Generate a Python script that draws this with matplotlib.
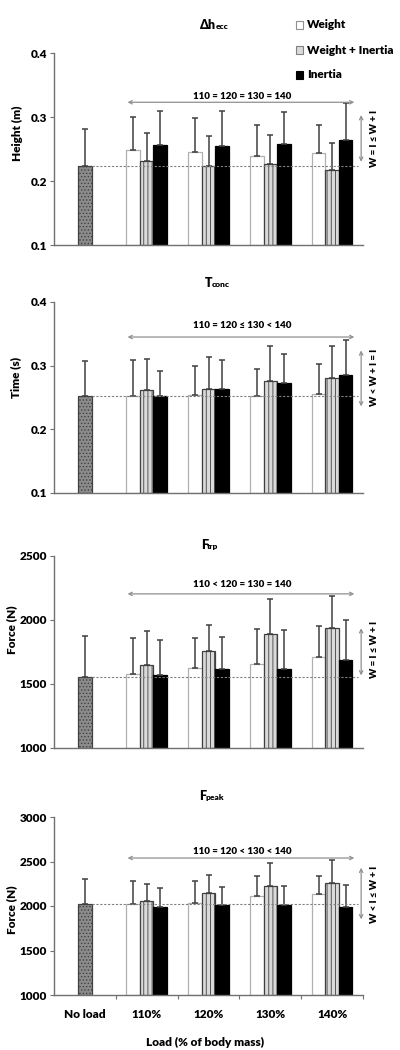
import matplotlib
matplotlib.use("Agg")
import matplotlib.pyplot as plt
import numpy as np

plt.rcParams['font.family'] = ['Lato', 'DejaVu Sans']
plt.rcParams['font.weight'] = 'heavy'
plt.rcParams['hatch.linewidth'] = 0.6
FW = 'heavy'

categories = ['No load', '110%', '120%', '130%', '140%']
series_names = ['Weight', 'Weight + Inertia', 'Inertia']

# Panel 1: delta h ecc (m)
dh_noload, dh_noload_sd = 0.223, 0.058
dh_w = [0.248, 0.245, 0.239, 0.243]
dh_w_sd = [0.052, 0.053, 0.048, 0.045]
dh_wi = [0.232, 0.224, 0.226, 0.217]
dh_wi_sd = [0.043, 0.047, 0.046, 0.042]
dh_i = [0.256, 0.254, 0.258, 0.264]
dh_i_sd = [0.054, 0.056, 0.050, 0.058]

# Panel 2: T conc (s)
tc_noload, tc_noload_sd = 0.253, 0.054
tc_w = [0.253, 0.254, 0.253, 0.255]
tc_w_sd = [0.056, 0.046, 0.042, 0.048]
tc_wi = [0.261, 0.264, 0.276, 0.280]
tc_wi_sd = [0.050, 0.050, 0.055, 0.051]
tc_i = [0.253, 0.263, 0.272, 0.286]
tc_i_sd = [0.039, 0.046, 0.046, 0.054]

# Panel 3: F trp (N)
ft_noload, ft_noload_sd = 1556, 320
ft_w = [1577, 1627, 1655, 1712]
ft_w_sd = [281, 231, 273, 245]
ft_wi = [1647, 1754, 1889, 1936]
ft_wi_sd = [266, 208, 273, 252]
ft_i = [1567, 1621, 1621, 1686]
ft_i_sd = [278, 250, 303, 312]

# Panel 4: F peak (N)
fp_noload, fp_noload_sd = 2020, 283
fp_w = [2028, 2032, 2111, 2134]
fp_w_sd = [256, 244, 225, 202]
fp_wi = [2055, 2141, 2224, 2258]
fp_wi_sd = [195, 210, 259, 254]
fp_i = [1994, 2010, 2010, 1988]
fp_i_sd = [211, 203, 214, 243]

panels = [
    dict(main='Δh', sub='ecc', ylabel='Height (m)', ylim=(0.1, 0.4), yticks=[0.1, 0.2, 0.3, 0.4], fmt='{:.1f}',
         nl=dh_noload, nlsd=dh_noload_sd, w=dh_w, wsd=dh_w_sd, wi=dh_wi, wisd=dh_wi_sd, i=dh_i, isd=dh_i_sd,
         load_text='110 = 120 = 130 = 140', arrow_y=0.323, text_y=0.332,
         mode_text='W = I ≤ W + I', v0=0.230, v1=0.303, vt=0.267,
         px=(53, 245), title_px=(208, 25), ylab_px=(17, 133)),
    dict(main='T', sub='conc', ylabel='Time (s)', ylim=(0.1, 0.4), yticks=[0.1, 0.2, 0.3, 0.4], fmt='{:.1f}',
         nl=tc_noload, nlsd=tc_noload_sd, w=tc_w, wsd=tc_w_sd, wi=tc_wi, wisd=tc_wi_sd, i=tc_i, isd=tc_i_sd,
         load_text='110 = 120 ≤ 130 < 140', arrow_y=0.345, text_y=0.363,
         mode_text='W < W + I = I', v0=0.236, v1=0.324, vt=0.281,
         px=(302, 493), title_px=(213, 283), ylab_px=(16, 377)),
    dict(main='F', sub='trp', ylabel='Force (N)', ylim=(1000, 2500), yticks=[1000, 1500, 2000, 2500], fmt='{:.0f}',
         nl=ft_noload, nlsd=ft_noload_sd, w=ft_w, wsd=ft_w_sd, wi=ft_wi, wisd=ft_wi_sd, i=ft_i, isd=ft_i_sd,
         load_text='110 < 120 = 130 = 140', arrow_y=2204, text_y=2279,
         mode_text='W = I ≤ W + I', v0=1567, v1=1936, vt=1767,
         px=(556, 748), title_px=(209, 545), ylab_px=(12, 630)),
    dict(main='F', sub='peak', ylabel='Force (N)', ylim=(1000, 3000), yticks=[1000, 1500, 2000, 2500, 3000], fmt='{:.0f}',
         nl=fp_noload, nlsd=fp_noload_sd, w=fp_w, wsd=fp_w_sd, wi=fp_wi, wisd=fp_wi_sd, i=fp_i, isd=fp_i_sd,
         load_text='110 = 120 < 130 < 140', arrow_y=2539, text_y=2614,
         mode_text='W < I ≤ W + I', v0=1850, v1=2430, vt=2126,
         px=(817, 995), title_px=(207, 796), ylab_px=(12, 910)),
]

W_PX, H_PX = 400, 1050
fig = plt.figure(figsize=(W_PX / 100, H_PX / 100), dpi=100)

AX_L, AX_R = 54, 363
bw = 0.22
edge = '#404040'
spine_c = '#707070'
arrow_c = '#909090'


def fx(p):
    return p / W_PX


def fy(p):
    return 1 - p / H_PX


for k, P in enumerate(panels):
    top, bot = P['px']
    ax = fig.add_axes([fx(AX_L), fy(bot), fx(AX_R - AX_L), (bot - top) / H_PX])
    ax.set_xlim(-0.5, 4.5)
    ax.set_ylim(*P['ylim'])
    base = P['ylim'][0]
    ekw = dict(ecolor=edge, elinewidth=1.1, capsize=2.2, capthick=1.1)

    # no-load bar
    ax.bar([0], [P['nl'] - base], bottom=base, width=bw, color='#8c8c8c', edgecolor=edge,
           linewidth=0.9, hatch='.....', zorder=2)
    ax.errorbar([0], [P['nl']], yerr=[[0], [P['nlsd']]], fmt='none', zorder=3, **ekw)

    x = np.arange(1, 5)
    w_vals = np.array(P['w'])
    wi_vals = np.array(P['wi'])
    i_vals = np.array(P['i'])
    ax.bar(x - bw, w_vals - base, bottom=base, width=bw, color='white', edgecolor='#b0b0b0',
           linewidth=0.9, zorder=2)
    ax.bar(x, wi_vals - base, bottom=base, width=bw, color='#dadada', edgecolor=edge, linewidth=0.9,
           hatch='||||', zorder=2)
    ax.bar(x + bw, i_vals - base, bottom=base, width=bw, color='black', edgecolor='black',
           linewidth=0.9, zorder=2)
    for xs, vals, sds in [(x - bw, w_vals, P['wsd']), (x, wi_vals, P['wisd']), (x + bw, i_vals, P['isd'])]:
        ax.errorbar(xs, vals, yerr=[np.zeros(4), np.array(sds)], fmt='none', zorder=3, **ekw)

    # dashed reference line
    ax.plot([bw / 2, 4.42], [P['nl'], P['nl']], ls=(0, (2, 1.5)), color='#808080', lw=0.8, zorder=4)

    # load comparison arrow
    ax.annotate('', xy=(0.69, P['arrow_y']), xytext=(4.36, P['arrow_y']),
                arrowprops=dict(arrowstyle='<->', color=arrow_c, lw=0.9, shrinkA=0, shrinkB=0,
                                mutation_scale=6), annotation_clip=False)
    ax.text(2.55, P['text_y'], P['load_text'], ha='center', va='center', fontsize=7, fontweight=FW)

    # mode comparison vertical arrow
    ax.annotate('', xy=(4.47, P['v0']), xytext=(4.47, P['v1']),
                arrowprops=dict(arrowstyle='<->', color=arrow_c, lw=0.9, shrinkA=0, shrinkB=0,
                                mutation_scale=6), annotation_clip=False)
    ax.text(4.68, P['vt'], P['mode_text'], ha='center', va='center', rotation=90, fontsize=7,
            fontweight=FW, clip_on=False)

    # spines / ticks
    for s in ['top', 'right']:
        ax.spines[s].set_visible(False)
    for s in ['left', 'bottom']:
        ax.spines[s].set_color(spine_c)
        ax.spines[s].set_linewidth(1.0)
    ax.set_yticks(P['yticks'])
    ax.set_yticklabels([P['fmt'].format(v) for v in P['yticks']], fontsize=8.5, fontweight=FW)
    ax.tick_params(axis='y', length=3, width=0.8, color=spine_c, pad=2)
    if k == 3:
        ax.set_xticks([0.5, 1.5, 2.5, 3.5, 4.5])
        ax.set_xticklabels([])
        ax.set_xticks(np.arange(5), minor=True)
        ax.set_xticklabels(categories, minor=True, fontsize=8.5, fontweight=FW)
        ax.tick_params(axis='x', which='major', length=3, width=0.8, color=spine_c)
        ax.tick_params(axis='x', which='minor', length=0, pad=10)
    else:
        ax.set_xticks([])

    # y label
    fig.text(fx(P['ylab_px'][0]), fy(P['ylab_px'][1]), P['ylabel'], rotation=90, ha='center', va='center',
             fontsize=8.5, fontweight=FW)

    # title with subscript
    t = fig.text(fx(P['title_px'][0] - 8), fy(P['title_px'][1]), P['main'], ha='left', va='center',
                 fontsize=9, fontweight=FW)
    ax.annotate(P['sub'], xy=(1, 0), xycoords=t, xytext=(-0.6, 0.8), textcoords='offset points',
                ha='left', va='bottom', fontsize=6, fontweight=FW, annotation_clip=False)

# legend
leg_items = [('white', '#909090'), ('#dadada', '#808080'), ('black', 'black')]
leg_y = [25, 50, 75]
for (fc, ec), yy, name in zip(leg_items, leg_y, series_names):
    fig.patches.append(plt.Rectangle((fx(296), fy(yy + 3.5)), fx(7), 7 / H_PX, facecolor=fc, edgecolor=ec,
                                     linewidth=0.8, transform=fig.transFigure, figure=fig))
    fig.text(fx(307), fy(yy), name, ha='left', va='center', fontsize=8.5, fontweight=FW)

fig.text(fx(205), fy(1042), 'Load (% of body mass)', ha='center', va='center', fontsize=8.5, fontweight=FW)

fig.savefig('out.png', dpi=100)
